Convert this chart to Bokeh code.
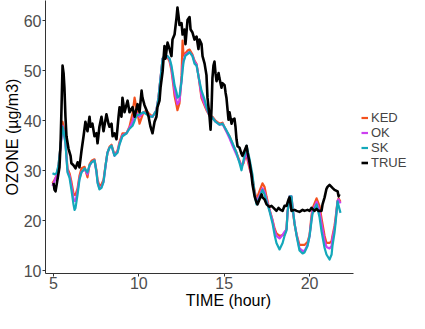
from bokeh.plotting import figure
from bokeh.models import FixedTicker, Legend, LegendItem, Range1d
from bokeh.embed import file_html
from bokeh.resources import INLINE

# ---------------- data ----------------
true_time = [5.00, 5.06, 5.12, 5.23, 5.35, 5.41, 5.47, 5.53, 5.59, 5.64, 5.70, 5.76, 5.88, 6.00, 6.05,
             6.17, 6.29, 6.41, 6.52, 6.64, 6.76, 6.87, 6.99, 7.11, 7.17, 7.28, 7.40, 7.52, 7.58, 7.69,
             7.81, 7.93, 8.10, 8.22, 8.28, 8.40, 8.46, 8.57, 8.69, 8.81, 8.87, 8.98, 9.04, 9.16, 9.34,
             9.45, 9.63, 9.75, 9.92, 10.04, 10.16, 10.21, 10.33, 10.45, 10.57, 10.68, 10.80, 10.92, 11.03,
             11.09, 11.21, 11.27, 11.39, 11.50, 11.56, 11.68, 11.80, 11.91, 11.97, 12.09, 12.21, 12.26,
             12.32, 12.38, 12.50, 12.56, 12.67, 12.73, 12.85, 12.97, 13.03, 13.14, 13.26, 13.38, 13.49,
             13.55, 13.67, 13.73, 13.85, 13.96, 14.02, 14.14, 14.20, 14.26, 14.31, 14.37, 14.43, 14.49,
             14.55, 14.67, 14.72, 14.84, 14.90, 15.02, 15.08, 15.13, 15.25, 15.31, 15.43, 15.49, 15.60,
             15.66, 15.72, 15.78, 15.90, 16.01, 16.07, 16.19, 16.31, 16.37, 16.48, 16.60, 16.66, 16.78,
             16.89, 16.95, 17.07, 17.19, 17.24, 17.36, 17.48, 17.65, 17.77, 17.89, 18.06, 18.18, 18.30,
             18.42, 18.53, 18.65, 18.77, 18.83, 18.94, 19.12, 19.24, 19.41, 19.59, 19.70, 19.88, 20.00,
             20.11, 20.29, 20.41, 20.52, 20.70, 20.76, 20.88, 20.99, 21.05, 21.17, 21.34, 21.46, 21.64,
             21.70, 21.75]
true_ozone = [27.6, 26.2, 25.9, 28.2, 30.7, 35.0, 42.7, 51.0, 49.5, 46.6, 40.8, 36.9, 34.4, 33.0, 31.5,
              31.1, 30.5, 31.7, 30.7, 34.0, 36.9, 39.8, 37.9, 40.8, 38.8, 39.4, 36.9, 37.5, 35.5, 38.8,
              40.8, 37.9, 41.3, 39.4, 38.8, 39.4, 36.9, 37.5, 36.3, 40.8, 42.7, 40.8, 44.6, 41.7, 44.0,
              41.7, 42.7, 40.8, 43.3, 41.7, 46.0, 44.6, 43.1, 42.1, 40.8, 38.8, 37.5, 39.8, 40.8,
              42.7, 44.0, 46.6, 49.8, 54.9, 52.4, 55.6, 54.3, 52.9, 56.2, 57.2, 60.7, 62.6,
              61.0, 59.1, 59.5, 57.2, 58.2, 55.3, 60.1, 60.7, 58.2, 57.6, 56.2, 56.8, 54.3,
              56.2, 55.3, 52.9, 51.4, 49.1, 44.6, 40.8, 38.2, 42.7, 48.5, 51.0, 51.8, 49.5,
              47.9, 49.5, 48.5, 46.6, 47.5, 47.1, 45.6, 44.6, 40.2, 41.7, 39.4, 40.2, 40.4,
              38.8, 36.3, 34.9, 34.6, 33.4, 33.0, 34.0, 35.0, 33.6, 31.7, 29.1, 27.2, 24.9,
              23.7, 23.3, 24.3, 25.3, 24.7, 24.3, 23.3, 22.8, 23.0, 22.6, 22.0, 22.6, 22.2,
              22.0, 23.0, 23.0, 24.3, 24.7, 22.0, 22.2, 22.0, 21.8, 22.2, 22.0, 22.2, 22.0,
              22.6, 22.0, 22.4, 22.0, 22.0, 23.3, 24.7, 26.4, 26.8, 27.2, 26.6, 26.2, 25.9,
              24.9, 25.3]

model_time = [4.94, 5.06, 5.18, 5.29, 5.41, 5.53, 5.59, 5.70, 5.82, 5.94, 6.05, 6.17, 6.23, 6.29, 6.41,
              6.52, 6.64, 6.82, 6.99, 7.11, 7.23, 7.40, 7.52, 7.58, 7.69, 7.81, 7.93, 8.05, 8.16, 8.28,
              8.40, 8.57, 8.75, 8.87, 9.04, 9.28, 9.45, 9.63, 9.75, 9.86, 10.04, 10.27, 10.45, 10.62,
              10.80, 11.03, 11.15, 11.21, 11.33, 11.39, 11.50, 11.68, 11.80, 11.91, 12.03, 12.09, 12.21,
              12.26, 12.38, 12.50, 12.56, 12.62, 12.73, 12.85, 12.97, 13.14, 13.26, 13.38, 13.49, 13.67,
              13.85, 13.96, 14.14, 14.31, 14.49, 14.72, 14.90, 15.08, 15.31, 15.49, 15.72, 15.90, 16.01,
              16.13, 16.19, 16.31, 16.48, 16.66, 16.78, 16.89, 17.07, 17.24, 17.36, 17.48, 17.65, 17.83,
              17.95, 18.06, 18.24, 18.42, 18.53, 18.65, 18.71, 18.83, 18.94, 19.00, 19.12, 19.24, 19.41,
              19.59, 19.70, 19.88, 20.00, 20.11, 20.17, 20.41, 20.58, 20.70, 20.88, 20.99, 21.17, 21.29,
              21.34, 21.46, 21.52, 21.64, 21.70, 21.81]
sk = [29.5, 29.3, 29.5, 31.1, 35.0, 38.8, 38.0, 35.5, 29.7, 28.6, 26.2, 23.3, 22.2, 22.6, 25.3,
      28.2, 29.7, 30.5, 29.7, 31.1, 31.7, 32.1, 29.7, 27.6, 26.3, 26.6, 27.8, 31.1, 33.6, 34.6,
      35.0, 33.0, 33.6, 35.3, 36.9, 37.5, 38.4, 39.0, 40.0, 41.0, 41.3, 41.7, 41.3, 40.8,
      40.8, 42.1, 44.6, 46.6, 50.4, 52.4, 52.9, 52.9, 52.4, 51.0, 48.5, 47.1, 45.6,
      44.6, 45.0, 47.9, 50.0, 51.8, 53.0, 53.3, 53.7, 52.9, 51.4, 51.0, 48.9, 46.0,
      44.2, 42.7, 41.0, 40.6, 39.8, 39.2, 39.4, 38.4, 36.9, 35.5, 33.6, 31.5, 30.1,
      32.1, 33.0, 35.0, 32.4, 29.1, 25.3, 23.3, 24.7, 26.2, 25.3, 23.9, 22.0, 19.5,
      17.2, 15.6, 14.3, 15.6, 17.0, 18.1, 21.8, 24.9, 24.9, 22.8, 19.5, 17.0, 14.1,
      13.5, 13.7, 15.0, 17.0, 19.9, 21.4, 23.3, 20.8, 17.9, 14.6, 13.3, 12.3, 13.3,
      15.0, 17.6, 19.5, 23.9, 23.0, 21.6]
ok = [27.0, 28.0, 29.0, 30.7, 34.6, 39.0, 38.2, 35.5, 30.0, 29.0, 27.0, 24.5, 24.0, 24.0, 26.0,
      28.5, 29.8, 30.3, 29.3, 31.0, 31.7, 32.1, 29.7, 27.8, 26.5, 26.8, 27.8, 31.0, 33.6, 34.6,
      35.0, 33.0, 33.8, 35.5, 37.1, 37.5, 38.6, 39.8, 41.5, 41.5, 40.8, 41.7, 41.5, 41.0,
      40.8, 42.1, 44.6, 46.6, 50.4, 52.4, 52.9, 52.9, 52.2, 50.5, 47.5, 46.0, 44.0,
      43.3, 44.0, 48.0, 51.0, 52.0, 53.2, 53.5, 53.7, 53.0, 51.8, 51.2, 49.0, 45.0,
      43.3, 42.4, 41.0, 40.6, 39.8, 39.2, 39.4, 38.2, 36.5, 35.0, 33.2, 31.8, 30.8,
      31.7, 32.5, 33.5, 31.0, 28.0, 25.5, 23.8, 25.0, 26.5, 25.8, 24.3, 22.2, 20.0,
      18.0, 17.0, 16.5, 17.2, 17.8, 18.3, 21.8, 24.9, 24.9, 22.8, 19.5, 17.2, 14.5,
      14.0, 14.0, 15.2, 17.0, 20.3, 22.0, 23.8, 22.0, 19.5, 16.0, 14.8, 14.5, 15.0,
      16.5, 18.5, 20.0, 24.0, 24.3, 23.5]
ked = [27.5, 28.2, 29.0, 30.9, 35.0, 39.8, 38.8, 36.0, 30.5, 29.5, 27.8, 25.5, 25.2, 25.2, 26.5,
       29.0, 30.5, 30.8, 28.7, 31.3, 32.0, 32.3, 30.0, 28.2, 27.0, 27.3, 28.2, 31.2, 33.6, 34.8,
       35.2, 33.2, 34.0, 35.8, 37.5, 37.5, 38.8, 41.5, 44.6, 42.5, 39.4, 41.7, 42.0, 41.3,
       40.8, 42.1, 44.6, 46.6, 50.4, 52.4, 52.9, 52.6, 51.8, 50.0, 46.8, 45.0, 43.0,
       42.1, 43.5, 49.0, 56.0, 53.0, 53.5, 54.0, 54.2, 53.2, 52.0, 51.3, 49.0, 44.5,
       43.0, 42.1, 41.0, 40.8, 40.0, 39.4, 39.6, 38.2, 36.9, 35.3, 33.6, 32.0, 31.0,
       31.5, 32.3, 33.0, 30.5, 28.5, 26.0, 24.3, 26.0, 27.5, 26.8, 24.8, 22.3, 20.2,
       18.5, 17.5, 17.0, 17.2, 17.2, 18.5, 21.8, 24.9, 24.7, 22.5, 19.3, 17.3, 15.2,
       15.2, 15.2, 15.8, 17.2, 21.0, 22.5, 24.5, 23.0, 20.5, 17.0, 15.6, 15.6, 16.0,
       17.0, 19.0, 20.5, 24.0, 24.5, 23.8]

x_ticks = [5, 10, 15, 20]
y_ticks = [10, 20, 30, 40, 50, 60]
x_axis_extent = (4.531, 22.575)
series_names = ["KED", "OK", "SK", "TRUE"]
series_colors = ["#F4511E", "#CC40F0", "#13A8BA", "#000000"]

FONT = "Liberation Sans"

p = figure(frame_width=366, frame_height=273, output_backend="svg", toolbar_location=None,
           x_range=Range1d(4.531, 25.97), y_range=Range1d(9.5, 64.0),
           min_border_left=38, min_border_right=0, min_border_top=0, min_border_bottom=36)
p.outline_line_color = None
p.grid.visible = False
p.background_fill_color = "white"

r_ked = p.line(model_time, ked, line_color=series_colors[0], line_width=2.2, line_join="round")
r_ok = p.line(model_time, ok, line_color=series_colors[1], line_width=2.2, line_join="round")
r_sk = p.line(model_time, sk, line_color=series_colors[2], line_width=2.2, line_join="round")
r_true = p.line(true_time, true_ozone, line_color=series_colors[3], line_width=2.6, line_join="round")

for ax in (p.xaxis[0], p.yaxis[0]):
    ax.axis_line_color = "#333333"
    ax.axis_line_width = 1
    ax.major_tick_line_color = "#333333"
    ax.major_tick_out = 3
    ax.major_tick_in = 0
    ax.minor_tick_line_color = None
    ax.major_label_text_font = FONT
    ax.major_label_text_font_size = "16px"
    ax.major_label_text_color = "#4D4D4D"
    ax.axis_label_text_font = FONT
    ax.axis_label_text_font_size = "16px"
    ax.axis_label_text_font_style = "normal"
    ax.axis_label_text_color = "black"
    ax.axis_label_standoff = 0

p.xaxis.ticker = FixedTicker(ticks=x_ticks)
p.yaxis.ticker = FixedTicker(ticks=y_ticks)
p.xaxis.bounds = x_axis_extent
p.xaxis.major_label_standoff = 0
p.xaxis.axis_label_standoff = 0
p.yaxis.major_label_standoff = 1
p.xaxis.axis_label = "TIME (hour)"
p.yaxis.axis_label = "OZONE (µg/m3)"

legend = Legend(items=[LegendItem(label=series_names[i], renderers=[r])
                       for i, r in enumerate([r_ked, r_ok, r_sk, r_true])],
                location=(316, 103))
legend.glyph_width = 7
legend.glyph_height = 15
legend.label_height = 15
legend.spacing = 0
legend.padding = 0
legend.margin = 0
legend.label_standoff = 3
legend.label_text_font = FONT
legend.label_text_font_size = "13px"
legend.border_line_color = None
legend.background_fill_alpha = 0
p.add_layout(legend)

open("out.html", "w").write(file_html(p, INLINE))
